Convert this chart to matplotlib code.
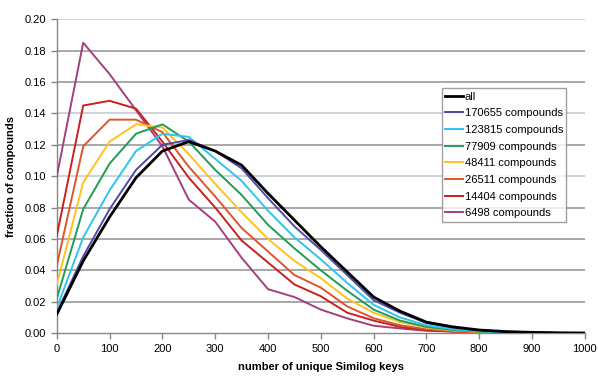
import matplotlib
matplotlib.use("Agg")
import matplotlib.pyplot as plt

plt.rcParams['font.family'] = ['Liberation Sans', 'DejaVu Sans']

keys = list(range(0, 1001, 50))

labels = ["all", "170655 compounds", "123815 compounds", "77909 compounds",
          "48411 compounds", "26511 compounds", "14404 compounds", "6498 compounds"]

frac_all = [0.012, 0.046, 0.074, 0.099, 0.116, 0.122, 0.116, 0.107, 0.089, 0.072, 0.055,
            0.039, 0.023, 0.014, 0.007, 0.004, 0.002, 0.001, 0.0005, 0.0002, 0.0001]
frac_170655 = [0.013, 0.049, 0.079, 0.104, 0.120, 0.123, 0.116, 0.105, 0.086, 0.068, 0.053,
               0.037, 0.021, 0.013, 0.0065, 0.0035, 0.0017, 0.0008, 0.0004, 0.0002, 0.0001]
frac_123815 = [0.016, 0.061, 0.091, 0.116, 0.127, 0.125, 0.111, 0.097, 0.078, 0.061, 0.047,
               0.032, 0.018, 0.010, 0.005, 0.0025, 0.0012, 0.0006, 0.0003, 0.0001, 0.0001]
frac_77909 = [0.022, 0.079, 0.108, 0.127, 0.133, 0.122, 0.104, 0.088, 0.069, 0.054, 0.040,
              0.027, 0.015, 0.008, 0.004, 0.002, 0.001, 0.0005, 0.0002, 0.0001, 0.0001]
frac_48411 = [0.031, 0.096, 0.122, 0.133, 0.131, 0.114, 0.095, 0.077, 0.060, 0.046, 0.035,
              0.022, 0.013, 0.007, 0.0035, 0.0017, 0.0008, 0.0004, 0.0002, 0.0001, 0.0001]
frac_26511 = [0.043, 0.119, 0.136, 0.136, 0.128, 0.106, 0.087, 0.067, 0.052, 0.037, 0.029,
              0.017, 0.0095, 0.005, 0.0025, 0.0012, 0.0006, 0.0003, 0.0001, 0.0001, 0.0001]
frac_14404 = [0.062, 0.145, 0.148, 0.143, 0.122, 0.099, 0.080, 0.059, 0.045, 0.031, 0.0235,
              0.013, 0.008, 0.004, 0.002, 0.001, 0.0005, 0.0002, 0.0001, 0.0001, 0.0001]
frac_6498 = [0.100, 0.185, 0.165, 0.142, 0.119, 0.085, 0.071, 0.048, 0.028, 0.023, 0.015,
             0.0094, 0.0047, 0.003, 0.0015, 0.001, 0.0005, 0.0002, 0.0001, 0.0001, 0.0001]

series = [frac_all, frac_170655, frac_123815, frac_77909,
          frac_48411, frac_26511, frac_14404, frac_6498]
colors = ["#000000", "#4c4ca8", "#2ec3f0", "#1f9d55",
          "#ffc222", "#e0532c", "#c9201f", "#a2407c"]
widths = [2.0, 1.4, 1.4, 1.4, 1.4, 1.4, 1.4, 1.4]

fig = plt.figure(figsize=(5.98, 3.76), dpi=100)
ax = fig.add_axes([0.095, 0.114, 0.883, 0.835])

yticks = [i * 0.02 for i in range(11)]
for t in yticks[1:]:
    light = round(t, 2) in (0.10, 0.14, 0.20)
    ax.axhline(t, color="#c6ccd3" if light else "#9a9a9a", lw=1.2, zorder=0)

# reverse order so "all" is drawn on top
for i in range(len(series) - 1, -1, -1):
    ax.plot(keys, series[i], color=colors[i], lw=widths[i], label=labels[i],
            zorder=2 + (len(series) - i))

ax.set_xlim(0, 1000)
ax.set_ylim(0, 0.20)
ax.set_xticks(range(0, 1001, 100))
ax.set_yticks(yticks)
ax.set_yticklabels([f"{t:.2f}" for t in yticks])

for s in ("top", "right"):
    ax.spines[s].set_visible(False)
for s in ("left", "bottom"):
    ax.spines[s].set_color("#888888")
    ax.spines[s].set_linewidth(1.0)
ax.tick_params(axis="both", colors="#888888", labelcolor="black", labelsize=8, length=4, width=1)

ax.set_xlabel("number of unique Similog keys", fontsize=8, fontweight="bold", labelpad=6)
ax.set_ylabel("fraction of compounds", fontsize=8, fontweight="bold", labelpad=6)

handles, lbls = ax.get_legend_handles_labels()
leg = ax.legend(handles[::-1], lbls[::-1], loc="upper left", bbox_to_anchor=(0.729, 0.78),
                fontsize=8, frameon=True, fancybox=False, handlelength=1.6,
                handletextpad=0.15, labelspacing=0.6, borderpad=0.3, borderaxespad=0)
leg.get_frame().set_edgecolor("#888888")
leg.get_frame().set_linewidth(1.0)
leg.set_zorder(20)

fig.savefig("out.png", dpi=100)
